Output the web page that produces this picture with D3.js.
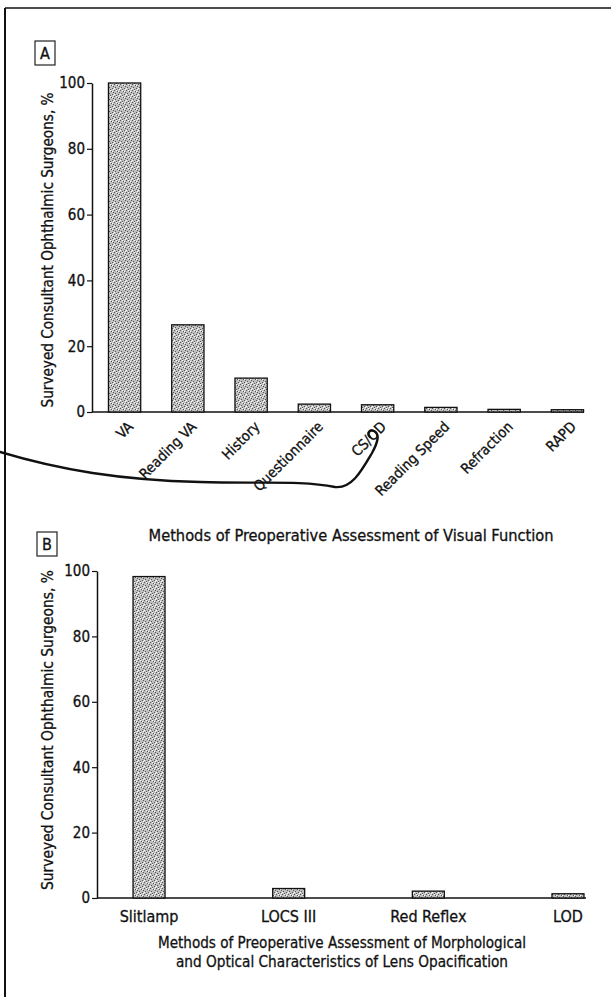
<!DOCTYPE html>
<html>
<head>
<meta charset="utf-8">
<script src="https://cdn.jsdelivr.net/npm/d3@7"></script>
<style>
  html, body { margin: 0; padding: 0; background: #fff; }
  svg { display: block; }
  text { font-family: "Liberation Sans Narrow", "DejaVu Sans Condensed", "Liberation Sans", sans-serif; fill: #111; stroke: #111; stroke-width: 0.3px; }
</style>
</head>
<body>
<svg id="chart" width="611" height="997"></svg>
<script>
// ---- Data ----
const categoriesA = ["VA", "Reading VA", "History", "Questionnaire", "CS/OD", "Reading Speed", "Refraction", "RAPD"];
const valuesA = [100, 26.5, 10.3, 2.4, 2.2, 1.4, 0.8, 0.7];
const categoriesB = ["Slitlamp", "LOCS III", "Red Reflex", "LOD"];
const valuesB = [98.3, 2.9, 2.1, 1.3];
const yTicks = [0, 20, 40, 60, 80, 100];
const yLabel = "Surveyed Consultant Ophthalmic Surgeons, %";
const titleA = ["Methods of Preoperative Assessment of Visual Function"];
const titleB = ["Methods of Preoperative Assessment of Morphological", "and Optical Characteristics of Lens Opacification"];
const panelLabels = ["A", "B"];

const svg = d3.select("#chart");

// stipple pattern for bars
const defs = svg.append("defs");
const pat = defs.append("pattern").attr("id", "stipple").attr("patternUnits", "userSpaceOnUse")
  .attr("width", 6).attr("height", 6);
pat.append("rect").attr("width", 6).attr("height", 6).attr("fill", "#c0c0c0");
[[0,0],[3,1],[1,3],[4,4],[2,5],[5,2]].forEach(([x,y]) =>
  pat.append("rect").attr("x", x).attr("y", y).attr("width", 1).attr("height", 1).attr("fill", "#555"));
[[2,0],[5,5],[0,4],[4,1]].forEach(([x,y]) =>
  pat.append("rect").attr("x", x).attr("y", y).attr("width", 1).attr("height", 1).attr("fill", "#fff"));

// page frame (left and top edges)
svg.append("line").attr("x1", 5).attr("x2", 611).attr("y1", 8).attr("y2", 8).attr("stroke", "#111").attr("stroke-width", 1.5);
svg.append("line").attr("x1", 5).attr("x2", 5).attr("y1", 8).attr("y2", 997).attr("stroke", "#111").attr("stroke-width", 2);

function panel(cfg) {
  const g = svg.append("g");
  const x = d3.scaleBand().domain(cfg.cats).range(cfg.xRange)
    .paddingInner(cfg.padIn).paddingOuter(cfg.padOut);
  const y = d3.scaleLinear().domain([0, 100]).range([cfg.y0, cfg.y100]);

  // panel label box
  g.append("rect").attr("x", cfg.box[0]).attr("y", cfg.box[1]).attr("width", 20).attr("height", 24)
    .attr("fill", "#fff").attr("stroke", "#222").attr("stroke-width", 1.2);
  g.append("text").attr("x", cfg.box[0] + 10).attr("y", cfg.box[1] + 18).attr("text-anchor", "middle")
    .style("font-size", "16px").text(cfg.label);

  // y axis
  const yAxis = d3.axisLeft(y).tickValues(yTicks).tickSize(5).tickPadding(2).tickSizeOuter(0);
  const ya = g.append("g").attr("transform", `translate(${cfg.xRange[0]},0)`).call(yAxis);
  ya.select(".domain").attr("stroke", "#111").attr("stroke-width", 1.5);
  ya.selectAll(".tick line").attr("stroke", "#111").attr("stroke-width", 1.2);
  ya.selectAll(".tick text").style("font-size", "15px").style("font-family", null).attr("fill", "#111");

  // x axis baseline
  g.append("line").attr("x1", cfg.xRange[0]).attr("x2", cfg.xEnd).attr("y1", y(0)).attr("y2", y(0))
    .attr("stroke", "#111").attr("stroke-width", 1.5);

  // bars
  g.selectAll("rect.bar").data(cfg.vals).join("rect").attr("class", "bar")
    .attr("x", (d, i) => x(cfg.cats[i]))
    .attr("y", d => y(d))
    .attr("width", x.bandwidth())
    .attr("height", d => y(0) - y(d))
    .attr("fill", "url(#stipple)")
    .attr("stroke", "#111").attr("stroke-width", 1.3);

  // category labels
  if (cfg.rotate) {
    g.selectAll("text.cat").data(cfg.cats).join("text").attr("class", "cat")
      .attr("transform", d => `translate(${x(d) + x.bandwidth() / 2 + 6},${y(0) + 12}) rotate(-45)`)
      .attr("text-anchor", "end").attr("dy", "0.35em")
      .style("font-size", "14.5px").text(d => d);
  } else {
    g.selectAll("text.cat").data(cfg.cats).join("text").attr("class", "cat")
      .attr("x", d => x(d) + x.bandwidth() / 2).attr("y", y(0) + 24)
      .attr("text-anchor", "middle").style("font-size", "16px").text(d => d);
  }

  // y label
  g.append("text").attr("transform", `translate(${cfg.yLabelX},${cfg.yLabelY}) rotate(-90)`)
    .attr("text-anchor", "middle").style("font-size", "16px")
    .attr("textLength", cfg.yLabelLen).attr("lengthAdjust", "spacingAndGlyphs").text(yLabel);

  // titles
  cfg.title.forEach((t, i) => {
    g.append("text").attr("x", cfg.titleX).attr("y", cfg.titleY + i * 19).attr("text-anchor", "middle")
      .style("font-size", "16px")
      .attr("textLength", cfg.titleLen[i]).attr("lengthAdjust", "spacingAndGlyphs").text(t);
  });
  return g;
}

panel({
  cats: categoriesA, vals: valuesA, label: panelLabels[0],
  xRange: [92, 600], padIn: 0.49, padOut: 0.26, xEnd: 584,
  y0: 412, y100: 83, box: [35, 41], rotate: true,
  yLabelX: 53, yLabelY: 250, yLabelLen: 315, title: titleA, titleLen: [405], titleX: 351, titleY: 541
});

panel({
  cats: categoriesB, vals: valuesB, label: panelLabels[1],
  xRange: [97, 620], padIn: 0.771, padOut: 0.258, xEnd: 586,
  y0: 898, y100: 571, box: [37, 532], rotate: false,
  yLabelX: 53, yLabelY: 730, yLabelLen: 320, title: titleB, titleLen: [368, 332], titleX: 342, titleY: 948
});

// hand-drawn pen stroke across panel A (scan artifact)
svg.append("path")
  .attr("d", "M0,452 C60,470 120,480 200,482 C260,484 300,480 335,487 C352,489 362,470 372,453 C378,442 380,434 374,431 C369,429 367,434 370,437")
  .attr("fill", "none").attr("stroke", "#111").attr("stroke-width", 2.4).attr("stroke-linecap", "round");
</script>
</body>
</html>
